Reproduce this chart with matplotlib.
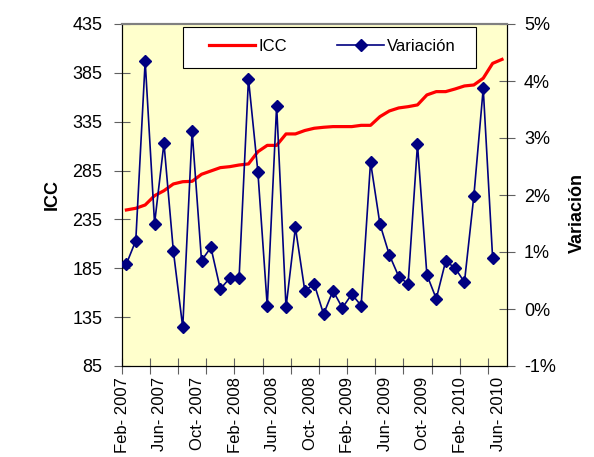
import numpy as np
import matplotlib
matplotlib.use('Agg')
import matplotlib.pyplot as plt
import matplotlib.transforms as mtransforms
from matplotlib.patches import Rectangle
from matplotlib.ticker import FixedLocator, FuncFormatter

plt.rcParams['font.family'] = ['Liberation Sans', 'DejaVu Sans']

# monthly series, Feb-2007 .. Jun-2010
icc = [244.7, 246.4, 249.8, 259.3, 264.4, 271.3, 273.6, 274.0, 281.2, 284.6,
       288.0, 289.0, 290.7, 291.8, 304.3, 310.8, 310.8, 322.5, 322.5, 326.0,
       328.3, 329.3, 330.0, 330.0, 330.0, 331.3, 331.3, 340.2, 346.0, 349.1,
       350.4, 352.2, 362.4, 365.8, 365.8, 368.5, 371.6, 372.6, 379.5, 394.7,
       398.8]
variacion = [0.79, 1.20, 4.35, 1.50, 2.91, 1.02, -0.32, 3.12, 0.85, 1.08,
             0.35, 0.54, 0.54, 4.04, 2.41, 0.05, 3.57, 0.03, 1.43, 0.32,
             0.44, -0.09, 0.32, 0.02, 0.26, 0.06, 2.58, 1.49, 0.95, 0.57,
             0.44, 2.89, 0.60, 0.18, 0.84, 0.72, 0.47, 1.98, 3.87, 0.90]
month_labels = ['Feb- 2007', 'Jun- 2007', 'Oct- 2007', 'Feb- 2008', 'Jun- 2008',
                'Oct- 2008', 'Feb- 2009', 'Jun- 2009', 'Oct- 2009', 'Feb- 2010',
                'Jun- 2010']
icc_ticks = [85, 135, 185, 235, 285, 335, 385, 435]
var_ticks = [-1, 0, 1, 2, 3, 4, 5]

W, H = 594, 457
fig = plt.figure(figsize=(W / 100, H / 100), dpi=100, facecolor='white')
ax = fig.add_axes([121.7 / W, 1 - 366 / H, 385 / W, 342 / H])
ax.set_facecolor('#FFFFCC')
ax2 = ax.twinx()

x_icc = np.arange(len(icc))
x_var = np.arange(len(variacion))

l1, = ax.plot(x_icc, icc, color='#FF0000', lw=2.3, label='ICC', zorder=3)
l2, = ax2.plot(x_var, variacion, color='#000080', lw=1.2, marker='D',
               markersize=6.5, label='Variación', zorder=3)

ax.set_xlim(-0.5, len(icc) - 0.5)
ax.set_ylim(85, 435)
ax2.set_ylim(-1, 5)
ax.set_yticks(icc_ticks)
ax2.set_yticks(var_ticks)
ax2.yaxis.set_major_formatter(FuncFormatter(lambda v, p: f'{v:.0f}%'))

# tick marks between categories every 3 months, labels every 4 months
ax.xaxis.set_major_locator(FixedLocator(np.arange(-0.5, len(icc), 3)))
ax.xaxis.set_minor_locator(FixedLocator(np.arange(0, len(icc), 4)))
ax.set_xticklabels([], minor=False)
ax.set_xticklabels(month_labels, minor=True, rotation=90, fontsize=12)
ax.tick_params(axis='x', which='major', direction='inout', length=11,
               color='#606060')
ax.tick_params(axis='x', which='minor', length=0, pad=8)
offset = mtransforms.ScaledTranslation(-4 / 100, 0, fig.dpi_scale_trans)
for lab in ax.get_xticklabels(minor=True):
    lab.set_transform(lab.get_transform() + offset)

ax.tick_params(axis='y', direction='inout', length=11, color='#606060',
               labelsize=13, pad=8.5)
ax2.tick_params(axis='y', direction='inout', length=11, color='#606060',
                labelsize=13, pad=7)

for a in (ax, ax2):
    a.spines['top'].set_color('#808080')
    a.spines['top'].set_linewidth(1.5)
    a.spines['left'].set_color('black')
    a.spines['bottom'].set_color('black')
    a.spines['right'].set_color('black')

fig.text(52 / W, 1 - 194 / H, 'ICC', rotation=90, fontsize=13,
         fontweight='bold', ha='center', va='center')
fig.text(577 / W, 1 - 213 / H, 'Variación', rotation=90, fontsize=13,
         fontweight='bold', ha='center', va='center')

# legend box drawn separately so the entries can sit like in the original
box = Rectangle((0.159, 0.871), 0.761, 0.12, transform=ax2.transAxes,
                facecolor='white', edgecolor='black', lw=0.8, zorder=5)
ax2.add_patch(box)
leg = ax2.legend([l1, l2], ['ICC', 'Variación'], ncol=2, loc='center',
                 bbox_to_anchor=(0.547, 0.934), frameon=False, fontsize=12,
                 handlelength=2.8, handletextpad=0.2, columnspacing=3.0,
                 borderaxespad=0)
leg.set_zorder(6)

fig.savefig('out.png', dpi=100)
